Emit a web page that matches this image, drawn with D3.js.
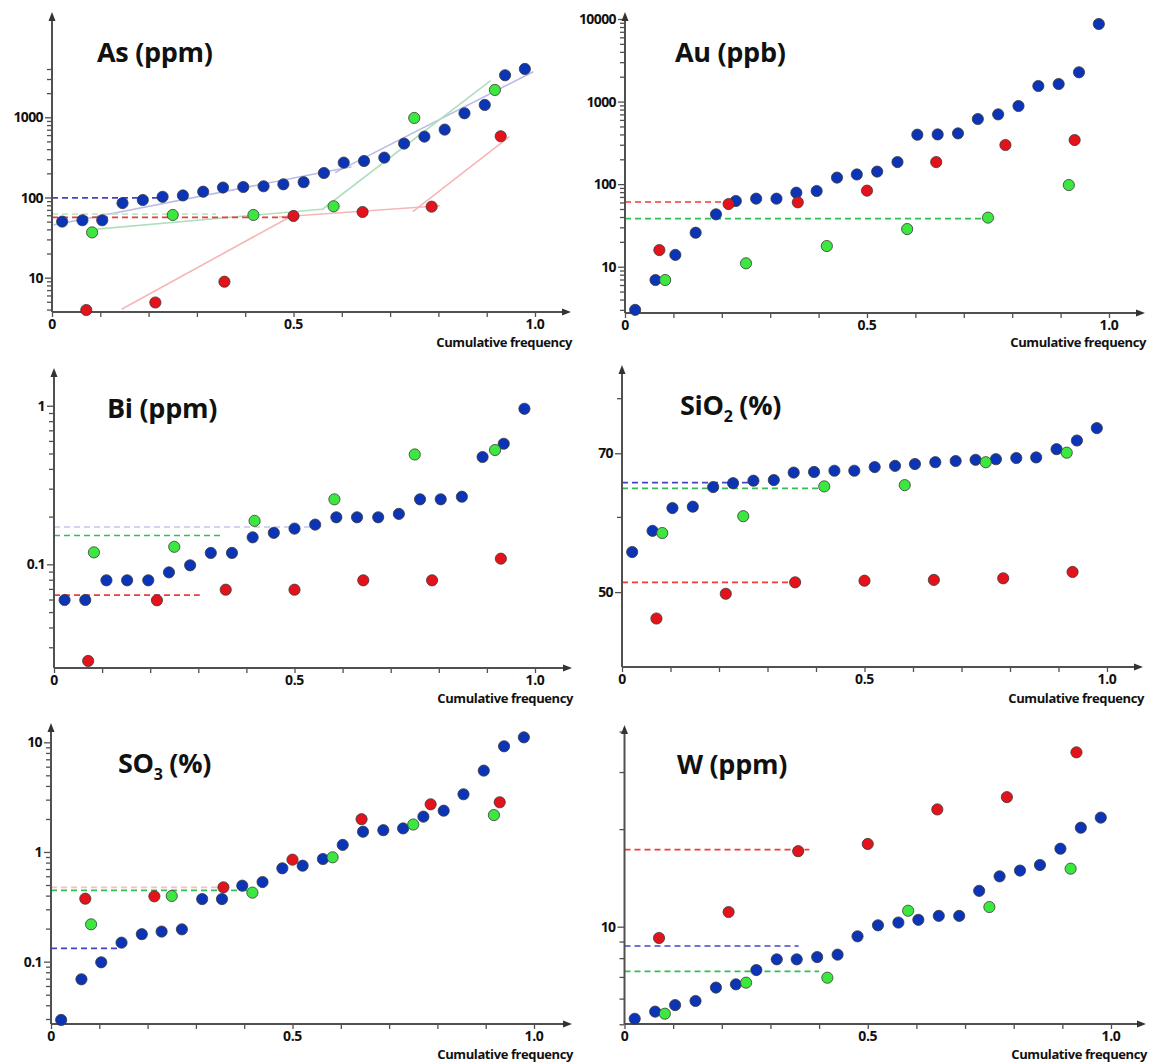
<!DOCTYPE html>
<html><head><meta charset="utf-8">
<script src="https://cdn.jsdelivr.net/npm/d3@7"></script>
<style>
body{margin:0;background:#fff}
svg{display:block}
text{font-family:"Open Sans",sans-serif;font-weight:700;fill:#111}
</style>
</head><body>
<svg id="c" width="1149" height="1062"></svg>
<script>
// ---------- DATA ----------
// cumulative frequency positions of the three sample groups
const freqBlue24 = [0.021,0.063,0.104,0.146,0.188,0.229,0.271,0.313,0.354,0.396,0.438,0.479,0.521,0.563,0.604,0.646,0.688,0.729,0.771,0.813,0.854,0.896,0.938,0.979];
const freqBlue23 = [0.022,0.065,0.109,0.152,0.196,0.239,0.283,0.326,0.370,0.413,0.457,0.500,0.543,0.587,0.630,0.674,0.717,0.761,0.804,0.848,0.891,0.935,0.978];
const freqRed = [0.071,0.214,0.357,0.500,0.643,0.786,0.929];
const freqGreen = [0.083,0.250,0.417,0.583,0.750,0.917];

const titles = ["As (ppm)","Au (ppb)","Bi (ppm)","SiO2 (%)","SO3 (%)","W (ppm)"];

const asBlue = [50,52,52,85,93,102,106,118,133,135,138,146,155,202,272,285,314,470,574,702,1122,1426,3344,4010];
const asRed = [3.95,4.9,8.9,58.8,65.9,76.8,580];
const asGreen = [36.7,60.5,60.5,77.6,981,2193];

const auBlue = [3.0,6.9,13.9,25.8,43.1,62.5,66.7,66.7,78.8,82.6,120,131,142,185,397,400,412,615,700,884,1545,1633,2262,8700];
const auRed = [15.9,57.4,60.2,83.4,185,298,342];
const auGreen = [6.9,11.0,17.8,28.6,39.3,97.6];

const biBlue = [0.0596,0.0596,0.0793,0.0793,0.0793,0.089,0.0986,0.118,0.118,0.148,0.158,0.168,0.178,0.198,0.198,0.198,0.208,0.257,0.257,0.267,0.475,0.576,0.957];
const biRed = [0.0246,0.0593,0.0692,0.0692,0.0793,0.0793,0.1086];
const biGreen = [0.119,0.129,0.188,0.257,0.493,0.526];

const sioBlue = [55.1,58.0,61.3,61.5,64.5,65.1,65.5,65.6,66.8,66.9,67.1,67.1,67.7,67.9,68.2,68.5,68.7,68.9,69.0,69.2,69.3,70.7,72.2,74.4];
const sioRed = [46.9,49.8,51.2,51.4,51.5,51.7,52.5];
const sioGreen = [57.7,60.1,64.6,64.8,68.5,70.1];

const so3Blue = [0.0294,0.069,0.0986,0.149,0.178,0.188,0.197,0.372,0.372,0.493,0.532,0.710,0.750,0.863,1.16,1.53,1.58,1.64,2.10,2.38,3.36,5.52,9.2,11.1];
const so3Red = [0.375,0.394,0.476,0.851,1.99,2.72,2.84];
const so3Green = [0.219,0.397,0.426,0.894,1.78,2.17];

const wBlue = [5.20,5.47,5.73,5.90,6.49,6.64,7.35,7.93,7.93,8.06,8.20,9.34,10.1,10.3,10.5,10.8,10.8,12.9,14.3,14.9,15.5,17.4,20.2,21.7];
const wRed = [9.23,11.1,17.1,18.0,23.0,25.1,34.5];
const wGreen = [5.39,6.72,6.96,11.2,11.5,15.1];

// threshold (dashed) lines: [group, value, end frequency]
const asThresholds = [["green",62,0.34,"faint"],["blue",99,0.22],["red",56.6,0.5]];
const auThresholds = [["red",60.8,0.215],["green",38.2,0.748]];
const biThresholds = [["lav",0.172,0.535],["green",0.152,0.352],["red",0.064,0.303]];
const sioThresholds = [["blue",65.2,0.263],["green",64.3,0.414],["red",51.2,0.354]];
const so3Thresholds = [["red",0.475,0.36,"faint"],["green",0.447,0.413],["blue",0.132,0.143]];
const wThresholds = [["red",17.3,0.38],["blue",8.72,0.358],["green",7.28,0.40]];

// As population trend segments: [group, f1, v1, f2, v2]
const asTrends = [
  ["blue",0.003,45.4,0.62,242],["blue",0.586,204,0.9965,3700],
  ["green",0.075,39.4,0.558,71.3],["green",0.558,69.8,0.908,2860],
  ["red",0.144,4.04,0.5,60.5],["red",0.47,57,0.803,79],["red",0.747,66.5,0.947,573]
];

const yLabels = {As:[10,100,1000],Au:[10,100,1000,10000],Bi:[0.1,1],SiO2:[50,70],SO3:[0.1,1,10],W:[10]};
const xLabels = ["0","0.5","1.0"];
const xTicks = [0,0.1,0.2,0.3,0.4,0.5,0.6,0.7,0.8,0.9,1.0];

// ---------- LAYOUT ----------
const panels = [
 {key:"As",title:titles[0],blue:asBlue,bf:freqBlue24,red:asRed,green:asGreen,th:asThresholds,trends:asTrends,
  x0:52,x1:535,xEnd:571,y0:312,yTop:12,lo:3.73,hi:20560,tLo:4,tHi:4000,tx:97,ty:62,cfY:347},
 {key:"Au",title:titles[1],blue:auBlue,bf:freqBlue24,red:auRed,green:auGreen,th:auThresholds,trends:[],
  x0:625,x1:1109,xEnd:1145,y0:313,yTop:12,lo:2.75,hi:12160,tLo:3,tHi:10000,tx:675,ty:62,cfY:347},
 {key:"Bi",title:titles[2],blue:biBlue,bf:freqBlue23,red:biRed,green:biGreen,th:biThresholds,trends:[],
  x0:54,x1:535,xEnd:572,y0:668,yTop:368,lo:0.0222,hi:1.73,tLo:0.03,tHi:1,tx:107,ty:418,cfY:703},
 {key:"SiO2",title:titles[3],blue:sioBlue,bf:freqBlue24,red:sioRed,green:sioGreen,th:sioThresholds,trends:[],
  x0:622,x1:1107,xEnd:1143,y0:667,yTop:365,lo:41.7,hi:86.7,tickList:[50,60,70,80],tx:680,ty:415,cfY:703},
 {key:"SO3",title:titles[4],blue:so3Blue,bf:freqBlue24,red:so3Red,green:so3Green,th:so3Thresholds,trends:[],
  x0:51,x1:534,xEnd:572,y0:1024,yTop:723,lo:0.027,hi:15,tLo:0.03,tHi:10,tx:118,ty:773,cfY:1059},
 {key:"W",title:titles[5],blue:wBlue,bf:freqBlue24,red:wRed,green:wGreen,th:wThresholds,trends:[],
  x0:624.5,x1:1111,xEnd:1146,y0:1024,yTop:725,lo:5.01,hi:41.9,tLo:5,tHi:40,tx:677,ty:774,cfY:1059}
];

const dotFill = {blue:"#0b34b6",red:"#e3121b",green:"#3ce83f"};
const dashCol = {blue:"#4444c4",red:"#f23a3a",green:"#2fbf55",lav:"#c4c6ea"};
const trendCol = {blue:"#b9bbe6",red:"#f6b6b6",green:"#aee0bf"};
const axisCol = "#505050";

const svg = d3.select("#c");

function logTicks(lo, hi){
  const out=[];
  for(let k=-3;k<=5;k++){
    for(let m=1;m<=9;m++){
      const v=+(m*Math.pow(10,k)).toPrecision(6);
      if(v>=lo*0.999 && v<=hi*1.001) out.push(v);
    }
  }
  return out;
}

panels.forEach(p=>{
  const g = svg.append("g");
  const x = d3.scaleLinear().domain([0,1]).range([p.x0,p.x1]);
  const y = d3.scaleLog().domain([p.lo,p.hi]).range([p.y0,p.yTop]);
  const labels = yLabels[p.key];

  // trend lines
  p.trends.forEach(t=>{
    g.append("line").attr("x1",x(t[1])).attr("y1",y(t[2])).attr("x2",x(t[3])).attr("y2",y(t[4]))
      .attr("stroke",trendCol[t[0]]).attr("stroke-width",1.6);
  });
  // threshold dashed lines
  p.th.forEach(t=>{
    g.append("line").attr("x1",x(0)).attr("x2",x(t[2])).attr("y1",y(t[1])).attr("y2",y(t[1]))
      .attr("stroke",t[3]==="faint"? (t[0]==="green"?"#bfe8c9":"#f7c0c0") : dashCol[t[0]])
      .attr("stroke-width",1.7).attr("stroke-dasharray","6,4");
  });

  // axes
  const ticks = p.tickList || logTicks(p.tLo,p.tHi);
  const yAxis = d3.axisLeft(y).tickValues(ticks).tickSize(5).tickFormat("");
  const ya = g.append("g").attr("transform",`translate(${p.x0},0)`).call(yAxis);
  ya.select(".domain").remove();
  ya.selectAll(".tick line").attr("stroke",axisCol).attr("stroke-width",1.3)
    .attr("x2",d=>labels.includes(d)?-7:-5);
  labels.forEach(v=>{
    g.append("text").attr("x",p.x0-9).attr("y",y(v)).attr("dy","0.36em").attr("text-anchor","end")
      .attr("font-size",14).attr("letter-spacing","-0.6").text(v);
  });

  const xAxis = d3.axisBottom(x).tickValues(xTicks).tickSize(5).tickFormat("");
  const xa = g.append("g").attr("transform",`translate(0,${p.y0})`).call(xAxis);
  xa.select(".domain").remove();
  xa.selectAll(".tick line").attr("stroke",axisCol).attr("stroke-width",1.3);
  [0,0.5,1].forEach((v,i)=>{
    g.append("text").attr("x",x(v)).attr("y",p.y0+17).attr("text-anchor","middle")
      .attr("font-size",14).attr("letter-spacing","-0.4").text(xLabels[i]);
  });

  // axis lines + arrows
  g.append("line").attr("x1",p.x0).attr("y1",p.y0).attr("x2",p.x0).attr("y2",p.yTop+4)
    .attr("stroke",axisCol).attr("stroke-width",2);
  g.append("line").attr("x1",p.x0).attr("y1",p.y0).attr("x2",p.xEnd-4).attr("y2",p.y0)
    .attr("stroke",axisCol).attr("stroke-width",2);
  g.append("path").attr("d",`M${p.x0},${p.yTop} L${p.x0-3.5},${p.yTop+9} L${p.x0+3.5},${p.yTop+9}Z`).attr("fill","#333");
  g.append("path").attr("d",`M${p.xEnd},${p.y0} L${p.xEnd-9},${p.y0-3.5} L${p.xEnd-9},${p.y0+3.5}Z`).attr("fill","#333");

  g.append("text").attr("x",p.xEnd+1).attr("y",p.cfY).attr("text-anchor","end")
    .attr("font-size",13).attr("letter-spacing","-0.4").text("Cumulative frequency");

  // title
  const tt = g.append("text").attr("x",p.tx).attr("y",p.ty).attr("font-size",27)
    .attr("font-weight",800).attr("letter-spacing","-0.3");
  const m = p.title.match(/^([A-Za-z]+?)(\d)(.*)$/);
  if(m){
    tt.append("tspan").text(m[1]);
    tt.append("tspan").attr("font-size",16).attr("dy",7).text(m[2]);
    tt.append("tspan").attr("dy",-7).text(m[3]);
  } else tt.text(p.title);

  // points
  const groups = [["blue",p.blue,p.bf],["red",p.red,freqRed],["green",p.green,freqGreen]];
  groups.forEach(([c,vals,fr])=>{
    g.append("g").selectAll("circle").data(vals).join("circle")
      .attr("cx",(d,i)=>x(fr[i])).attr("cy",d=>y(d)).attr("r",5.6)
      .attr("fill",dotFill[c]).attr("stroke","#3a3a3a").attr("stroke-width",0.8);
  });
});
</script>
</body></html>
